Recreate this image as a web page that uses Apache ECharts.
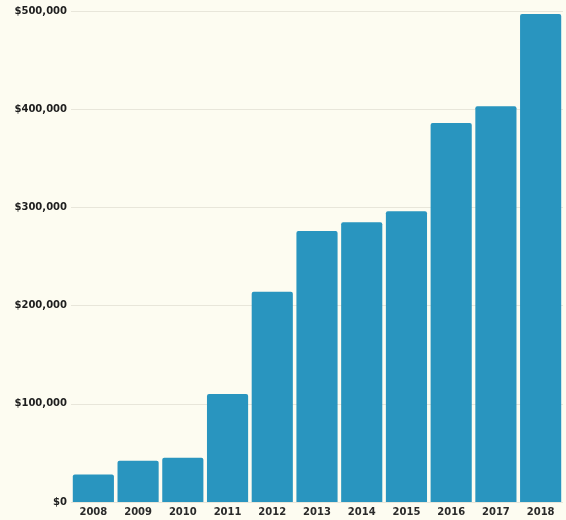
<!DOCTYPE html>
<html>
<head>
<meta charset="utf-8">
<script src="https://cdn.jsdelivr.net/npm/echarts@6/dist/echarts.min.js"></script>
<style>
html,body{margin:0;padding:0;background:#fdfcf1;}
#c{width:566px;height:520px;}
</style>
</head>
<body>
<div id="c"></div>
<script>
const years = ['2008','2009','2010','2011','2012','2013','2014','2015','2016','2017','2018'];
const revenue = [28000, 42000, 45000, 110000, 214000, 276000, 285000, 296000, 386000, 403000, 497000];
const yTicks = [0, 100000, 200000, 300000, 400000, 500000];

const chart = echarts.init(document.getElementById('c'));
chart.setOption({
  backgroundColor: '#fdfcf1',
  animation: false,
  grid: {left: 71, right: 3, top: 11, bottom: 18},
  xAxis: {
    type: 'category',
    data: years,
    axisLine: {show: false},
    axisTick: {show: false},
    axisLabel: {color: '#2a2a2a', fontFamily: 'DejaVu Sans', fontWeight: 'bold', fontSize: 10, margin: 5}
  },
  yAxis: {
    type: 'value',
    min: 0,
    max: yTicks[yTicks.length - 1],
    interval: 100000,
    axisLine: {show: false},
    axisTick: {show: false},
    splitLine: {lineStyle: {color: '#e8e6da', width: 1}},
    axisLabel: {
      color: '#1e1e1e', fontFamily: 'DejaVu Sans', fontWeight: 'bold', fontSize: 10, margin: 4,
      formatter: v => '$' + v.toLocaleString('en-US')
    }
  },
  series: [{
    type: 'bar',
    data: revenue,
    barCategoryGap: '8%',
    itemStyle: {color: '#2995bf', borderRadius: [2, 2, 0, 0]}
  }]
});
</script>
</body>
</html>
